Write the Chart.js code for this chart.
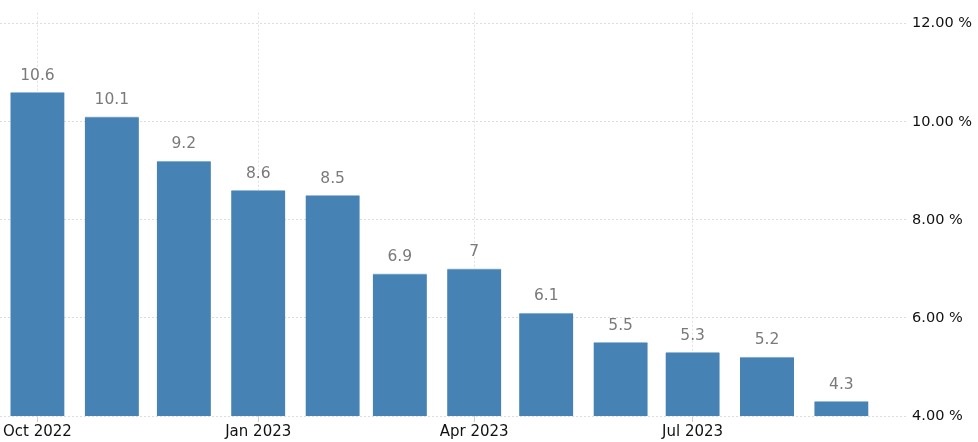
<!DOCTYPE html>
<html>
<head>
<meta charset="utf-8">
<script src="https://cdn.jsdelivr.net/npm/chart.js@4"></script>
<style>
  html, body { margin: 0; padding: 0; background: #fff; }
  #wrap { width: 978px; height: 442px; }
</style>
</head>
<body>
<div id="wrap"><canvas id="inflChart"></canvas></div>
<script>
// monthly values, Oct 2022 .. Sep 2023
const months = ['2022-10', '2022-11', '2022-12', '2023-01', '2023-02', '2023-03',
                '2023-04', '2023-05', '2023-06', '2023-07', '2023-08', '2023-09'];
const values = [10.6, 10.1, 9.2, 8.6, 8.5, 6.9, 7, 6.1, 5.5, 5.3, 5.2, 4.3];
const tickMonths = ['2022-10', '2023-01', '2023-04', '2023-07'];
const tickLabels = ['Oct 2022', 'Jan 2023', 'Apr 2023', 'Jul 2023'];
const yTicks = [4, 6, 8, 10, 12];

// day offset from first month (bars sit on a time-like linear axis)
function dayOf(m) {
  let p = m.split('-');
  let t0 = Date.UTC(2022, 9, 1);
  return (Date.UTC(+p[0], +p[1] - 1, 1) - t0) / 86400000;
}

const points = months.map((m, i) => ({ x: dayOf(m), y: values[i] }));
const tickDays = tickMonths.map(dayOf);

const valueLabels = {
  id: 'valueLabels',
  afterDatasetsDraw(chart) {
    let c = chart.ctx;
    let meta = chart.getDatasetMeta(0);
    c.save();
    c.font = '15.5px "DejaVu Sans"';
    c.fillStyle = '#7a7a7a';
    c.textAlign = 'center';
    c.textBaseline = 'bottom';
    meta.data.forEach((bar, i) => {
      c.fillText(String(values[i]), bar.x, bar.y - 9);
    });
    c.restore();
  }
};

Chart.defaults.font.family = '"DejaVu Sans", sans-serif';
Chart.defaults.font.size = 15;
Chart.defaults.color = '#111';

new Chart(document.getElementById('inflChart'), {
  type: 'bar',
  data: {
    datasets: [{
      data: points,
      backgroundColor: '#4682b4',
      borderColor: '#9dbbd6',
      borderWidth: { top: 1, left: 0, right: 0, bottom: 0 },
      barThickness: 54
    }]
  },
  options: {
    responsive: true,
    maintainAspectRatio: false,
    animation: false,
    layout: { padding: { left: 0, right: 2, top: 0, bottom: 0 } },
    plugins: {
      legend: { display: false },
      tooltip: { enabled: false }
    },
    scales: {
      x: {
        type: 'linear',
        offset: false,
        min: -15.6,
        max: 362.8,
        grid: {
          offset: false,
          color: '#e2e2e2',
          tickColor: '#d0d0d0',
          tickLength: 6,
          drawTicks: true
        },
        border: { display: false, dash: [2, 2] },
        afterBuildTicks(axis) {
          axis.ticks = tickDays.map(v => ({ value: v }));
        },
        ticks: {
          padding: 1,
          maxRotation: 0,
          autoSkip: false,
          callback: (v) => tickLabels[tickDays.indexOf(v)]
        }
      },
      y: {
        position: 'right',
        min: 4,
        max: 12.225,
        grid: { color: '#dcdcdc', drawTicks: false },
        border: { display: false, dash: [2, 2] },
        afterBuildTicks(axis) {
          axis.ticks = yTicks.map(v => ({ value: v }));
        },
        ticks: {
          padding: 4,
          font: { size: 14.5 },
          callback: (v) => v.toFixed(2) + ' %'
        }
      }
    }
  },
  plugins: [valueLabels]
});
</script>
</body>
</html>
